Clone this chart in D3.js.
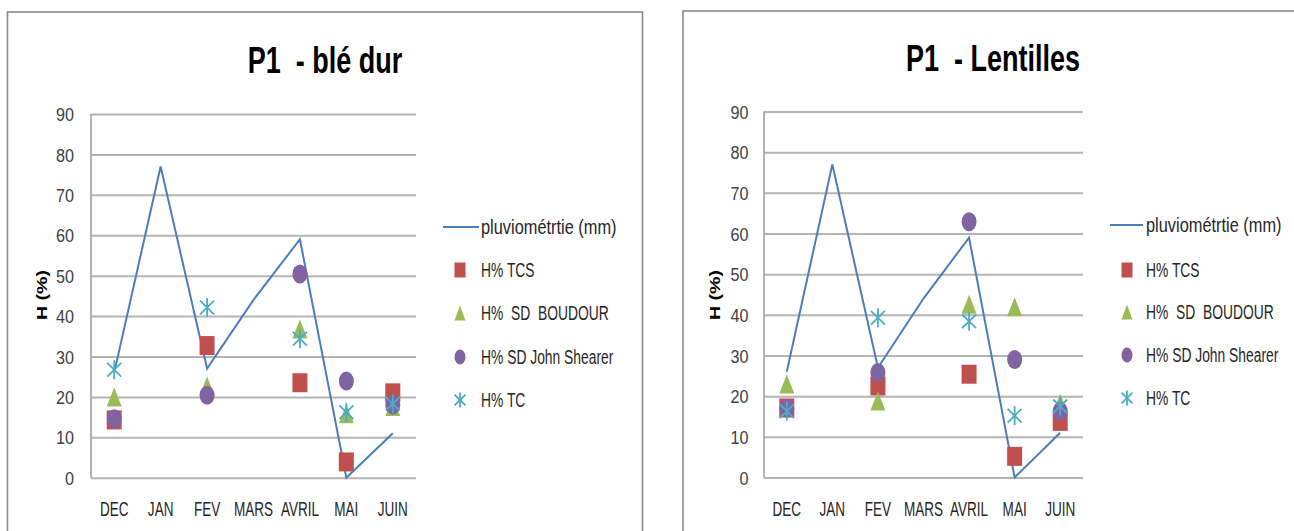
<!DOCTYPE html>
<html>
<head>
<meta charset="utf-8">
<script src="https://cdn.jsdelivr.net/npm/d3@7/dist/d3.min.js"></script>
<style>
  html, body { margin: 0; padding: 0; background: #ffffff; }
  svg { display: block; }
  text { font-family: "Liberation Sans", Arial, sans-serif; white-space: pre; }
</style>
</head>
<body>
<svg id="chart" width="1294" height="531"></svg>
<script>
// Months on the x axis
const categories = ["DEC", "JAN", "FEV", "MARS", "AVRIL", "MAI", "JUIN"];
const yTicks = [0, 10, 20, 30, 40, 50, 60, 70, 80, 90];

// Monthly rainfall (mm), same for both plots
const pluviometrie = [26, 77, 27, 44, 59, 0, 11];

// Soil moisture H (%) – durum wheat plot
const bleTCS          = [14.3, null, 32.7, null, 23.5, 3.9, 21.0];
const bleBoudour      = [20.0, null, 22.7, null, 36.8, 15.8, 17.6];
const bleJohnShearer  = [14.6, null, 20.4, null, 50.4, 23.9, 18.0];
const bleTC           = [26.7, null, 42.1, null, 34.4, 16.2, 18.3];

// Soil moisture H (%) – lentil plot
const lentTCS         = [17.1, null, 22.5, null, 25.4, 5.2, 13.8];
const lentBoudour     = [23.0, null, 18.8, null, 42.6, 42.0, 18.3];
const lentJohnShearer = [17.0, null, 25.8, null, 62.9, 29.0, 16.3];
const lentTC          = [16.3, null, 39.3, null, 38.4, 15.2, 17.5];

const seriesNames = ["pluviométrtie (mm)", "H% TCS", "H%  SD  BOUDOUR", "H% SD John Shearer", "H% TC"];

const COLORS = {
  line: "#4a7ebb",
  tcs: "#c0504d",
  boudour: "#9bbb59",
  john: "#8064a2",
  tc: "#4bacc6"
};

const svg = d3.select("#chart");

function placeText(g, x, y, str, o) {
  return g.append("text")
    .attr("transform", `translate(${x},${y})` + (o.rotate ? ` rotate(${o.rotate})` : "") + ` scale(${o.sx || 1},${o.sy || 1})`)
    .attr("font-size", o.size)
    .attr("font-weight", o.weight || "normal")
    .attr("text-anchor", o.anchor || "start")
    .attr("fill", o.fill || "#262626")
    .attr("xml:space", "preserve")
    .text(str);
}

// Marker shapes, drawn centred on (0,0)
function drawMarker(g, kind, w, h) {
  if (kind === "square") {
    g.append("rect").attr("x", -w / 2).attr("y", -h / 2).attr("width", w).attr("height", h)
      .attr("fill", COLORS.tcs);
  } else if (kind === "triangle") {
    g.append("path").attr("d", `M0,${-h / 2}L${w / 2},${h / 2}L${-w / 2},${h / 2}Z`)
      .attr("fill", COLORS.boudour);
  } else if (kind === "circle") {
    g.append("ellipse").attr("rx", w / 2).attr("ry", h / 2).attr("fill", COLORS.john);
  } else if (kind === "star") {
    const s = g.append("g").attr("stroke", COLORS.tc).attr("stroke-width", 1.8).attr("fill", "none");
    s.append("line").attr("x1", 0).attr("x2", 0).attr("y1", -h / 2).attr("y2", h / 2);
    s.append("line").attr("x1", -w / 2).attr("x2", w / 2).attr("y1", -h * 0.36).attr("y2", h * 0.36);
    s.append("line").attr("x1", -w / 2).attr("x2", w / 2).attr("y1", h * 0.36).attr("y2", -h * 0.36);
  }
}

function drawChart(cfg) {
  const g = svg.append("g");

  // chart frame
  g.append("rect")
    .attr("x", cfg.frame[0]).attr("y", cfg.frame[1])
    .attr("width", cfg.frame[2]).attr("height", cfg.frame[3])
    .attr("fill", "#ffffff").attr("stroke", "#8a8a8a").attr("stroke-width", 1.6);

  const x = d3.scaleBand().domain(categories).range([cfg.left, cfg.right]);
  const y = d3.scaleLinear().domain([0, 90]).range([cfg.bottom, cfg.top]);
  const cx = d => x(d) + x.bandwidth() / 2;

  // horizontal gridlines + y tick labels
  const yAxis = g.append("g")
    .attr("transform", `translate(${cfg.left},0)`)
    .call(d3.axisLeft(y).tickValues(yTicks).tickSize(-(cfg.right - cfg.left)).tickFormat(d3.format("d")));
  yAxis.select(".domain").remove();
  yAxis.selectAll(".tick line").attr("stroke", "#b4b4b4").attr("stroke-width", 2);
  yAxis.selectAll(".tick text")
    .attr("x", null).attr("dy", null)
    .attr("transform", `translate(${-cfg.tickPad},6.7) scale(0.86,1)`)
    .attr("font-size", 18.8).attr("fill", "#404040")
    .attr("font-family", "Liberation Sans, Arial, sans-serif");

  // vertical axis line
  g.append("line").attr("x1", cfg.left).attr("x2", cfg.left)
    .attr("y1", cfg.top).attr("y2", cfg.bottom)
    .attr("stroke", "#a0a0a0").attr("stroke-width", 1.6);

  // category labels
  const xAxis = g.append("g")
    .attr("transform", `translate(0,${cfg.bottom})`)
    .call(d3.axisBottom(x).tickSize(0));
  xAxis.select(".domain").remove();
  xAxis.selectAll(".tick text")
    .attr("y", null).attr("dy", null)
    .attr("transform", "translate(0,38.5) scale(0.66,1)")
    .attr("font-size", 20.5).attr("fill", "#262626")
    .attr("font-family", "Liberation Sans, Arial, sans-serif");

  // title
  placeText(g, cfg.titleX, cfg.titleY, cfg.title, { size: 36, weight: "bold", anchor: "middle", sx: 0.75, fill: "#000" });

  // y axis title
  placeText(g, cfg.yTitleX, cfg.yTitleY, "H (%)", { size: 14, weight: "bold", anchor: "middle", rotate: -90, sx: 1.4, fill: "#000" });

  // rainfall line
  const line = d3.line().x((d, i) => cx(categories[i])).y(d => y(d));
  g.append("path").datum(pluviometrie)
    .attr("d", line).attr("fill", "none")
    .attr("stroke", COLORS.line).attr("stroke-width", 2);

  // moisture markers
  const sets = [
    { data: cfg.tcs, kind: "square" },
    { data: cfg.boudour, kind: "triangle" },
    { data: cfg.john, kind: "circle" },
    { data: cfg.tc, kind: "star" }
  ];
  sets.forEach(s => {
    s.data.forEach((v, i) => {
      if (v == null) return;
      const m = g.append("g").attr("transform", `translate(${cx(categories[i])},${y(v)})`);
      drawMarker(m, s.kind, s.kind === "star" ? 14 : 15, 19);
    });
  });

  // legend
  const lg = g.append("g");
  const rows = cfg.legendRows;
  lg.append("line")
    .attr("x1", cfg.legendLine[0]).attr("x2", cfg.legendLine[1])
    .attr("y1", rows[0]).attr("y2", rows[0])
    .attr("stroke", COLORS.line).attr("stroke-width", 2);
  ["square", "triangle", "circle", "star"].forEach((k, i) => {
    const m = lg.append("g").attr("transform", `translate(${cfg.legendMarkerX},${rows[i + 1]})`);
    drawMarker(m, k, 11, 15);
  });
  seriesNames.forEach((name, i) => {
    placeText(lg, cfg.legendTextX, rows[i] + 7, name,
      { size: 19.5, sx: i === 0 ? 0.84 : 0.71, fill: "#262626" });
  });
}

drawChart({
  frame: [7.5, 12, 635, 540],
  left: 91, right: 416, top: 114, bottom: 477.7, tickPad: 17,
  title: "P1  - blé dur", titleX: 325, titleY: 73,
  yTitleX: 46.5, yTitleY: 295,
  tcs: bleTCS, boudour: bleBoudour, john: bleJohnShearer, tc: bleTC,
  legendRows: [227, 270, 313, 357, 400],
  legendLine: [443, 479], legendMarkerX: 460, legendTextX: 481
});

drawChart({
  frame: [683, 11, 640, 540],
  left: 764, right: 1083, top: 111.5, bottom: 477.5, tickPad: 15.5,
  title: "P1  - Lentilles", titleX: 993, titleY: 71,
  yTitleX: 720, yTitleY: 295,
  tcs: lentTCS, boudour: lentBoudour, john: lentJohnShearer, tc: lentTC,
  legendRows: [225, 270, 312, 355, 398],
  legendLine: [1110, 1143], legendMarkerX: 1127, legendTextX: 1146
});
</script>
</body>
</html>
